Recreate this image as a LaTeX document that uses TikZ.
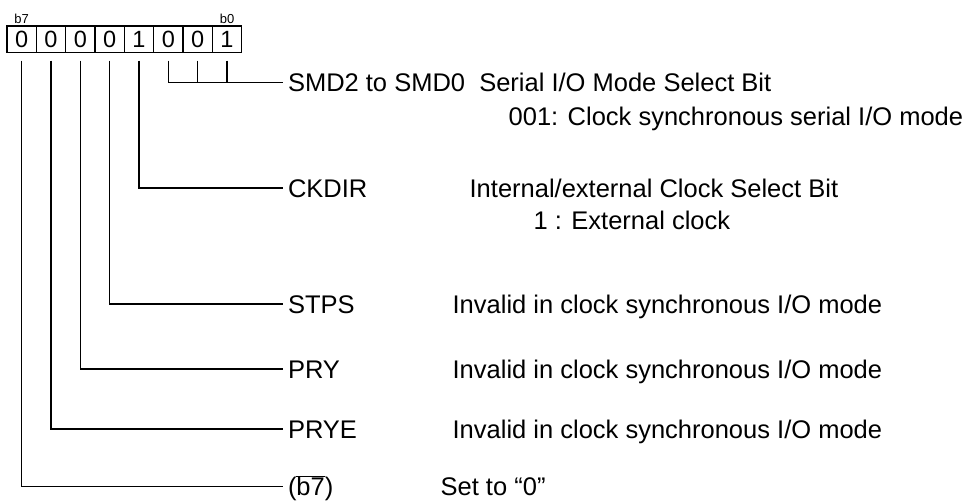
\documentclass[tikz,border=0pt]{standalone}
\usepackage{fontspec}
\setmainfont{Liberation Sans}
\begin{document}
\begin{tikzpicture}[x=1pt,y=-1pt,line width=1.3pt,
  cell/.style={draw,minimum width=29.33pt,minimum height=26.7pt,inner sep=0pt,
    font=\fontsize{23.5}{26}\selectfont},
  bitlbl/.style={inner sep=0pt,anchor=base,font=\fontsize{13}{15}\selectfont},
  lbl/.style={inner sep=0pt,outer xsep=5pt,anchor=west,text height=18.3pt,text depth=0pt,
    font=\fontsize{25.5}{30}\selectfont},
  desc/.style={inner sep=0pt,anchor=west,text height=18.3pt,text depth=0pt,
    font=\fontsize{25.5}{30}\selectfont}]
\useasboundingbox (0,0) rectangle (962,501);
% register cells (b7 ... b0)
\node[cell] (c7) at (21.67,39.35) {0};
\node[cell] (c6) at (51.00,39.35) {0};
\node[cell] (c5) at (80.33,39.35) {0};
\node[cell] (c4) at (109.67,39.35) {0};
\node[cell] (c3) at (139.00,39.35) {1};
\node[cell] (c2) at (168.33,39.35) {0};
\node[cell] (c1) at (197.67,39.35) {0};
\node[cell] (c0) at (227.00,39.35) {1};
\node[bitlbl] (lb7) at (21.67,23) {b7};
\node[bitlbl] (lb0) at (227.00,23) {b0};
% labels
\node[lbl] (smd) at (283,82.7) {SMD2 to SMD0\hspace{0.556em}Serial I/O Mode Select Bit};
\node[desc] (smdv) at (508,116) {001: Clock synchronous serial I/O mode};
\node[lbl] (ckdir) at (283,188) {CKDIR};
\node[desc] (ckdird) at (469,188) {Internal/external Clock Select Bit};
\node[desc] (ckdirv) at (533,220) {1 : External clock};
\node[lbl] (stps) at (283,304) {STPS};
\node[desc] (stpsd) at (452,304) {Invalid in clock synchronous I/O mode};
\node[lbl] (pry) at (283,369) {PRY};
\node[desc] (pryd) at (452,369) {Invalid in clock synchronous I/O mode};
\node[lbl] (prye) at (283,429) {PRYE};
\node[desc] (pryed) at (452,429) {Invalid in clock synchronous I/O mode};
\node[lbl] (b7n) at (283,486.5) {(\ensuremath{\overline{\mbox{b7}}})};
\node[desc] (b7d) at (440,486.5) {Set to “0”};
% connectors
\draw ([yshift=-7.3pt]c2.south) |- (smd.west);
\draw ([yshift=-7.3pt]c1.south) -- (c1.south |- smd.west);
\draw ([yshift=-7.3pt]c0.south) -- (c0.south |- smd.west);
\draw ([yshift=-7.3pt]c3.south) |- (ckdir.west);
\draw ([yshift=-7.3pt]c4.south) |- (stps.west);
\draw ([yshift=-7.3pt]c5.south) |- (pry.west);
\draw ([yshift=-7.3pt]c6.south) |- (prye.west);
\draw ([yshift=-7.3pt]c7.south) |- (b7n.west);
\end{tikzpicture}
\end{document}
